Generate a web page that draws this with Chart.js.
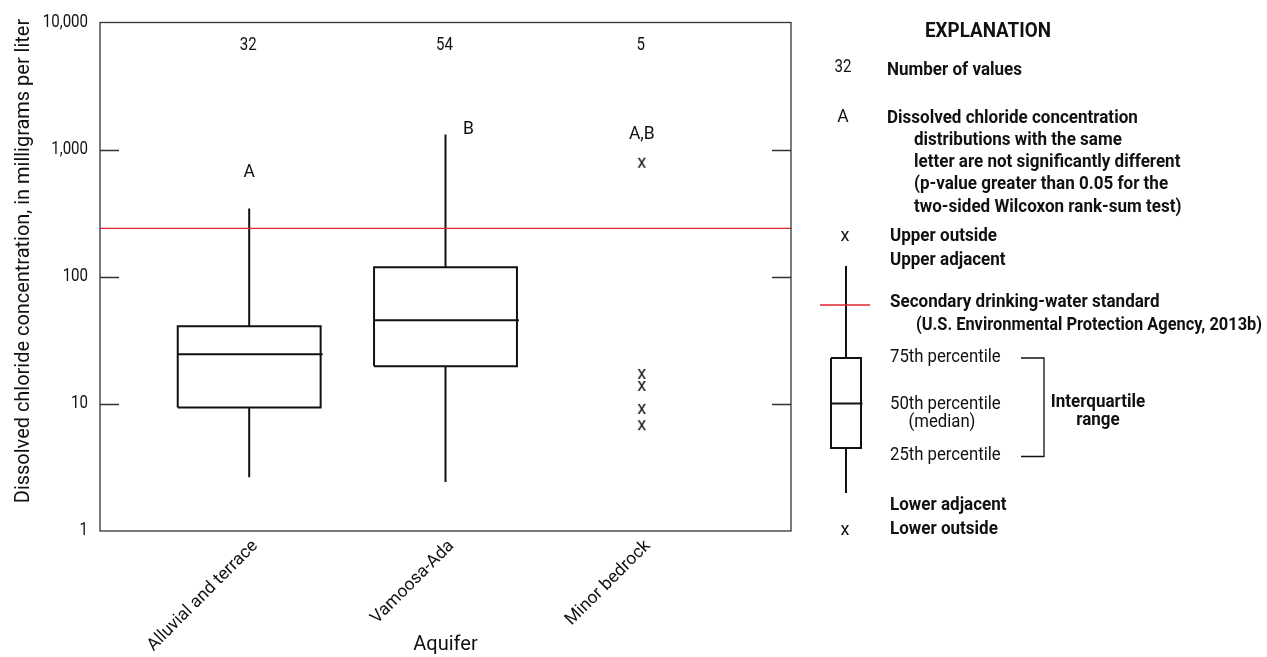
<!DOCTYPE html>
<html>
<head>
<meta charset="utf-8">
<script src="https://cdn.jsdelivr.net/npm/chart.js@4/dist/chart.umd.min.js"></script>
<style>
  html, body { margin: 0; padding: 0; background: #fff; }
  #wrap { width: 1267px; height: 657px; }
</style>
</head>
<body>
<div id="wrap"><canvas id="c" width="1267" height="657"></canvas></div>
<script>
// Dissolved chloride concentration by aquifer (mg/L)
const categories = ['Alluvial and terrace', 'Vamoosa-Ada', 'Minor bedrock'];
const counts     = [32, 54, 5];
const letters    = ['A', 'B', 'A,B'];
const lowerAdj   = [2.65, 2.43, null];
const q1         = [9.35, 19.8, null];
const median     = [24.6, 45.5, null];
const q3         = [40.8, 118.9, null];
const upperAdj   = [344, 1316, null];
const outliers   = [[], [], [775, 16.9, 13.6, 8.97, 6.68]];
const standard   = 240;   // secondary drinking-water standard
const yTicks     = [1, 10, 100, 1000, 10000];

const FONT = 'Roboto, "Liberation Sans", sans-serif';
const INK = '#111';
const RED = '#e3262d';
const BOX_HALF = 0.364;   // half box width, in x-axis units
const X_MIN = 0.24, X_MAX = 3.76;
const Y_LABEL_SX = 0.86;  // horizontal squeeze of the y tick labels

// letter placement relative to the highest mark in each group (px)
const letterOffset = [{ dx: 0, dy: -36 }, { dx: 23, dy: -5 }, { dx: 0, dy: -29 }];

// ---- datasets built from the arrays ----
const boxPts = [], medPts = [], whiskPts = [], outPts = [];
categories.forEach((c, i) => {
  const x = i + 1;
  if (q1[i] != null) {
    boxPts.push({ x: x - BOX_HALF, y: q1[i] }, { x: x + BOX_HALF, y: q1[i] },
                { x: x + BOX_HALF, y: q3[i] }, { x: x - BOX_HALF, y: q3[i] },
                { x: x - BOX_HALF, y: q1[i] }, { x: x, y: null });
    medPts.push({ x: x - BOX_HALF, y: median[i] }, { x: x + BOX_HALF + 0.01, y: median[i] }, { x: x, y: null });
    whiskPts.push({ x: x, y: lowerAdj[i] }, { x: x, y: q1[i] }, { x: x, y: null },
                  { x: x, y: q3[i] }, { x: x, y: upperAdj[i] }, { x: x, y: null });
  }
  outliers[i].forEach(v => outPts.push({ x: x, y: v }));
});

// "x" glyph used as the outlier marker
function glyph(ch, size) {
  const cv = document.createElement('canvas');
  cv.width = 14; cv.height = 16;
  const g = cv.getContext('2d');
  g.fillStyle = INK;
  g.font = size + 'px ' + FONT;
  g.textAlign = 'center';
  g.textBaseline = 'middle';
  g.translate(7, 7);
  g.scale(0.95, 1);
  g.fillText(ch, 0, 0);
  return cv;
}
const xMark = glyph('x', 19);

const lineStyle = {
  borderColor: INK, borderWidth: 2, pointRadius: 0, fill: false,
  tension: 0, spanGaps: false, borderJoinStyle: 'miter', borderCapStyle: 'butt'
};

// ---- drawing helpers for annotations and explanation ----
function txt(ctx, s, x, y, o = {}) {
  ctx.save();
  ctx.fillStyle = o.color || INK;
  ctx.font = (o.bold ? 'bold ' : '') + (o.size || 17.5) + 'px ' + FONT;
  ctx.textAlign = o.align || 'left';
  ctx.textBaseline = o.baseline || 'middle';
  let sx = o.sx || 1;
  if (o.fitW) sx = o.fitW / ctx.measureText(s).width;
  ctx.translate(x, y);
  if (o.rotate) ctx.rotate(o.rotate);
  ctx.scale(sx, 1);
  ctx.fillText(s, 0, 0);
  ctx.restore();
}
const BOLD = { bold: true, size: 18.5, sx: 0.92 };
const REG = { size: 17.8, sx: 0.94 };
function seg(ctx, pts, w = 2, color = INK) {
  ctx.save();
  ctx.strokeStyle = color;
  ctx.lineWidth = w;
  ctx.lineJoin = 'miter';
  ctx.beginPath();
  pts.forEach((p, k) => k ? ctx.lineTo(p[0], p[1]) : ctx.moveTo(p[0], p[1]));
  ctx.stroke();
  ctx.restore();
}

// narrower y tick labels: squeeze horizontally about their right-hand anchor
const narrowTicks = {
  id: 'narrowTicks',
  afterUpdate(chart) {
    const s = chart.scales.y;
    if (s._narrowed) return;
    const orig = s.drawLabels;
    s.drawLabels = function (area) {
      const ctx = this.ctx;
      const x0 = this.right - this.options.ticks.padding;
      ctx.save();
      ctx.translate(x0, 0);
      ctx.scale(Y_LABEL_SX, 1);
      ctx.translate(-x0, 0);
      orig.call(this, area);
      ctx.restore();
    };
    s._narrowed = true;
  }
};

const decorations = {
  id: 'decorations',
  afterDraw(chart) {
    const { ctx, chartArea: a, scales: { x, y } } = chart;

    // frame and inward ticks on both sides
    ctx.save();
    ctx.strokeStyle = '#333';
    ctx.lineWidth = 1.3;
    ctx.strokeRect(a.left, a.top, a.right - a.left, a.bottom - a.top);
    yTicks.slice(1, -1).forEach(v => {
      const py = Math.round(y.getPixelForValue(v)) + 0.5;
      ctx.beginPath();
      ctx.moveTo(a.left, py); ctx.lineTo(a.left + 19, py);
      ctx.moveTo(a.right - 19, py); ctx.lineTo(a.right, py);
      ctx.stroke();
    });
    ctx.restore();

    // y-axis title
    txt(ctx, 'Dissolved chloride concentration, in milligrams per liter', 29, 261,
        { align: 'center', baseline: 'alphabetic', rotate: -Math.PI / 2, size: 21, sx: 0.95 });

    // counts and significance letters
    categories.forEach((c, i) => {
      const px = x.getPixelForValue(i + 1);
      txt(ctx, String(counts[i]), px - 1, a.top + 23, { align: 'center', size: 17.5, sx: 0.86 });
      const top = Math.max(upperAdj[i] || 0, ...outliers[i]);
      const py = y.getPixelForValue(top);
      txt(ctx, letters[i], px + letterOffset[i].dx, py + letterOffset[i].dy, { align: 'center', size: 17.5 });
    });

    // ---- explanation ----
    txt(ctx, 'EXPLANATION', 988, 32, { bold: true, size: 20, sx: 0.94, align: 'center' });
    txt(ctx, '32', 843, 68, { align: 'center', size: 17.5, sx: 0.86 });
    txt(ctx, 'Number of values', 887, 70, BOLD);
    txt(ctx, 'A', 843, 118, { align: 'center', size: 17.5 });
    txt(ctx, 'Dissolved chloride concentration', 887, 118, BOLD);
    ['distributions with the same',
     'letter are not significantly different',
     '(p-value greater than 0.05 for the',
     'two-sided Wilcoxon rank-sum test)'].forEach((s, k) =>
      txt(ctx, s, 914, 140 + k * 22.3, BOLD));

    ctx.drawImage(xMark, 845 - 7, 236 - 7);
    txt(ctx, 'Upper outside', 890, 236, BOLD);
    txt(ctx, 'Upper adjacent', 890, 260, BOLD);

    const bx = 846, bl = 831, br = 861, bt = 358, bb = 448, bm = 403.5;
    seg(ctx, [[bx, 266], [bx, bt]]);
    seg(ctx, [[bl, bt], [br, bt], [br, bb], [bl, bb], [bl, bt]]);
    seg(ctx, [[bl, bm], [br + 1.5, bm]]);
    seg(ctx, [[bx, bb], [bx, 493]]);
    seg(ctx, [[820, 305], [870, 305]], 1.3, RED);

    txt(ctx, 'Secondary drinking-water standard', 890, 302, BOLD);
    txt(ctx, '(U.S. Environmental Protection Agency, 2013b)', 916, 325,
        Object.assign({}, BOLD, { fitW: 346 }));

    txt(ctx, '75th percentile', 890, 358, REG);
    txt(ctx, '50th percentile', 890, 405, REG);
    txt(ctx, '(median)', 942, 423, Object.assign({ align: 'center' }, REG));
    txt(ctx, '25th percentile', 890, 456, REG);
    seg(ctx, [[1021, 358], [1044, 358], [1044, 456.5], [1021, 456.5]], 1.3);
    txt(ctx, 'Interquartile', 1098, 402, Object.assign({ align: 'center' }, BOLD));
    txt(ctx, 'range', 1098, 420, Object.assign({ align: 'center' }, BOLD));

    txt(ctx, 'Lower adjacent', 890, 505, BOLD);
    ctx.drawImage(xMark, 845 - 7, 530 - 7);
    txt(ctx, 'Lower outside', 890, 529, BOLD);
  }
};

new Chart(document.getElementById('c'), {
  type: 'line',
  data: {
    datasets: [
      { label: 'standard', data: [{ x: X_MIN, y: standard }, { x: X_MAX, y: standard }],
        borderColor: RED, borderWidth: 1.2, pointRadius: 0, fill: false },
      Object.assign({ label: 'whiskers', data: whiskPts }, lineStyle),
      Object.assign({ label: 'boxes', data: boxPts }, lineStyle),
      Object.assign({ label: 'medians', data: medPts }, lineStyle),
      { label: 'outliers', data: outPts, showLine: false,
        pointStyle: xMark, pointRadius: 7, pointHoverRadius: 7 }
    ]
  },
  options: {
    responsive: false,
    animation: false,
    events: [],
    layout: { padding: { left: 0, right: 476, top: 20, bottom: 0 } },
    plugins: { legend: { display: false }, tooltip: { enabled: false } },
    scales: {
      x: {
        type: 'linear', min: X_MIN, max: X_MAX,
        afterBuildTicks(s) { s.ticks = categories.map((c, i) => ({ value: i + 1 })); },
        afterFit(s) { s.height = 126; },
        ticks: {
          callback: v => categories[v - 1] || '',
          minRotation: 45, maxRotation: 45, autoSkip: false,
          color: INK, font: { family: FONT, size: 17.5 }, padding: 5, labelOffset: 6
        },
        grid: { display: false, drawTicks: false },
        border: { display: false },
        title: { display: true, text: 'Aquifer', color: INK,
                 font: { family: FONT, size: 20 }, padding: { top: 0, bottom: 0 } }
      },
      y: {
        type: 'logarithmic', min: 1, max: 10000,
        afterBuildTicks(s) { s.ticks = yTicks.map(v => ({ value: v, major: true })); },
        afterFit(s) { s.width = 100; },
        ticks: {
          callback: v => Number(v).toLocaleString('en-US'),
          color: INK, font: { family: FONT, size: 17.5 }, padding: 12, autoSkip: false
        },
        grid: { display: false, drawTicks: false },
        border: { display: false }
      }
    }
  },
  plugins: [narrowTicks, decorations]
});
</script>
</body>
</html>
